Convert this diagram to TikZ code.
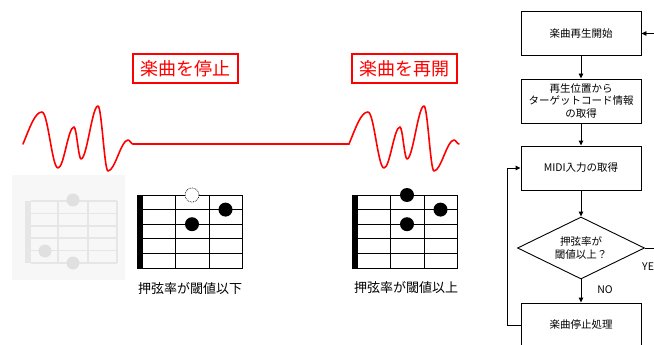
\documentclass[tikz,border=0pt]{standalone}
\usepackage{fontspec}
\setmainfont{Noto Sans CJK JP}
\usetikzlibrary{arrows.meta,shapes.geometric}
\definecolor{fadebg}{HTML}{F7F7F7}
\definecolor{fadeline}{HTML}{E6E6E6}
\definecolor{fadedot}{HTML}{E0E0E0}
\begin{document}
\begin{tikzpicture}[x=1pt,y=-1pt,
  wave/.style={red, line width=1.6pt, line join=round, line cap=round},
  redlabel/.style={draw=red, line width=1.2pt, text=red, font=\fontsize{18}{20}\selectfont, minimum width=105pt, minimum height=29pt, inner sep=0pt},
  gridline/.style={black, line width=1pt},
  fadegrid/.style={fadeline, line width=1.5pt},
  chordlabel/.style={font=\fontsize{13}{15}\selectfont, inner sep=0pt},
  box/.style={draw, line width=0.9pt, minimum width=120pt, minimum height=44pt, inner sep=0pt, align=center, font=\fontsize{10.5}{12.5}\selectfont},
  decision/.style={draw, diamond, aspect=2, line width=0.9pt, minimum width=127pt, minimum height=62pt, inner sep=0pt, align=center, font=\fontsize{10.5}{13.5}\selectfont},
  flowlabel/.style={font=\fontsize{10.5}{12.5}\selectfont, inner sep=0pt},
  arr/.style={-{Triangle[length=5pt,width=4.5pt]}, line width=0.9pt},
  conn/.style={line width=0.9pt}]
\useasboundingbox (0,0) rectangle (654,345);
\clip (0,0) rectangle (654,345);

% red labels
\node[redlabel] (stop) at (185.5,68.5) {楽曲を停止};
\node[redlabel] (resume) at (404.5,68.5) {楽曲を再開};

% waves
\foreach \s in {0,326}{
  \begin{scope}[shift={(\s,0)}]
  \draw[wave] (23,144) .. controls (30,127) and (35,112) .. (42,112)
    .. controls (48,112) and (52,168) .. (58,168)
    .. controls (64,168) and (68,127) .. (74,127)
    .. controls (76.5,127) and (78.5,159) .. (81,159)
    .. controls (87,159) and (92,106) .. (98,106)
    .. controls (101.6,106) and (104.4,171) .. (108,171)
    .. controls (115,171) and (121,140) .. (128,140)
    .. controls (130,140) and (131,144) .. (133,144);
  \end{scope}
}
\draw[wave] (133,144) -- (349,144);

% faded chord
\fill[fadebg] (12,175) rectangle (125,280);
\fill[fadeline] (25,201) rectangle (31,263);
\foreach \i in {0,...,5}{
  \draw[fadegrid] (31,{201+12.4*\i}) -- (117,{201+12.4*\i});
}
\foreach \x in {58,88,117}{
  \draw[fadegrid] (\x,201) -- (\x,263);
}
\fill[fadedot] (73,200) circle (6.5pt);
\fill[fadedot] (45,251) circle (6.5pt);
\fill[fadedot] (73,263) circle (6.5pt);

% chord diagrams
\foreach \s in {0,215}{
  \begin{scope}[shift={(\s,0)}]
  \foreach \i in {0,...,5}{
    \draw[gridline] (140,{195+14.6*\i}) -- (242.5,{195+14.6*\i});
  }
  \foreach \x in {175,209,242}{
    \draw[gridline] (\x,195) -- (\x,268);
  }
  \fill[black] (137,194.5) rectangle (143,268.5);
  \fill[black] (192,224.2) circle (7pt);
  \fill[black] (225.5,209.6) circle (7pt);
  \end{scope}
}
\draw[fill=white, line width=0.7pt, densely dotted] (192,195) circle (7pt);
\fill[black] (407,195) circle (7pt);

\node[chordlabel] (lowlabel) at (190,289) {押弦率が閾値以下};
\node[chordlabel] (highlabel) at (406,288) {押弦率が閾値以上};

% flowchart
\node[box] (b1) at (581,33.5) {楽曲再生開始};
\node[box] (b2) at (581,101) {再生位置から\\ターゲットコード情報\\の取得};
\node[box] (b3) at (581,168) {MIDI入力の取得};
\node[decision] (d) at (581,248) {押弦率が\\閾値以上？};
\node[box] (b5) at (581,325) {楽曲停止処理};

\draw[arr] (b1) -- (b2);
\draw[arr] (b2) -- (b3);
\draw[arr] (b3) -- (d);
\draw[arr] (d) -- (b5);
\draw[arr] (b5.west) -- ++(-13,0) |- (b3.west);

\coordinate (rin) at (660,33.5);
\coordinate (rout) at (660,248);
\draw[arr] (rin) -- (b1.east);
\draw[conn] (d.east) -- (rout);

\node[flowlabel, anchor=west] (yes) at (642,267) {YES};
\node[flowlabel] (no) at (605,290) {NO};
\end{tikzpicture}
\end{document}
